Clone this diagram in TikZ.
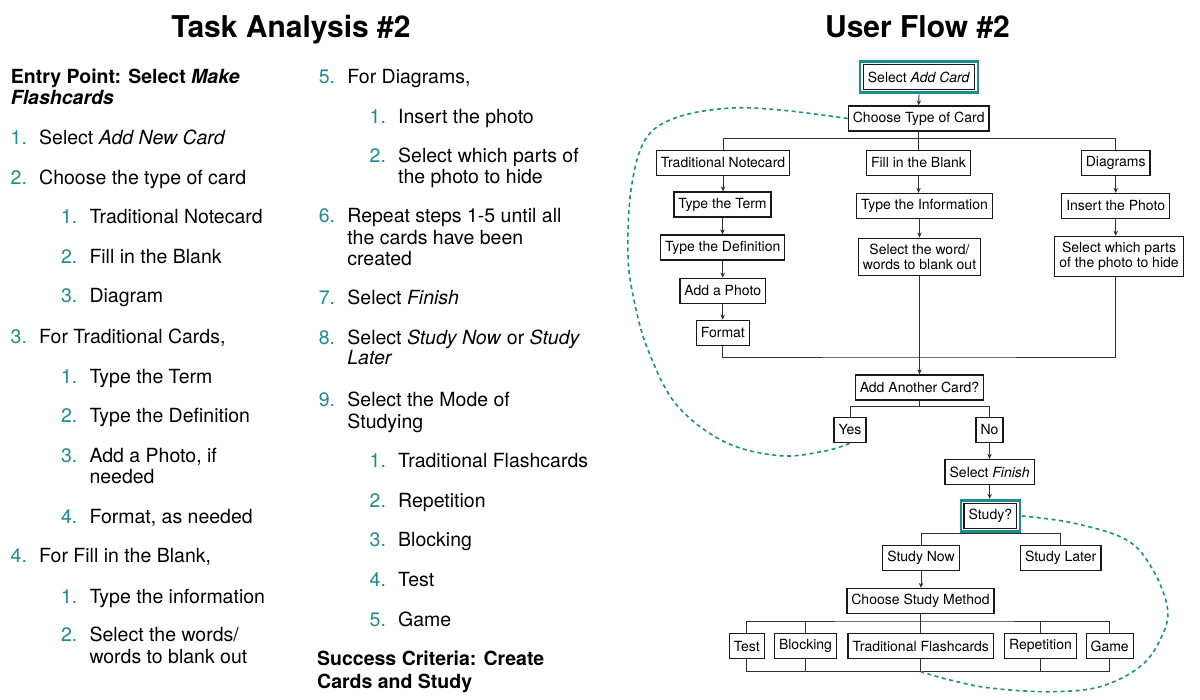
\documentclass[tikz,border=0pt]{standalone}
\usepackage{fontspec}
\setmainfont{TeX Gyre Heros}
\usetikzlibrary{arrows.meta}
\definecolor{tealmark}{RGB}{28,140,140}
\definecolor{inkline}{RGB}{25,25,25}

\tikzset{
  flowbox/.style={draw=inkline, line width=1.3pt, fill=white, align=center,
    font=\fontsize{14}{15.3}\selectfont, inner xsep=4.5pt, inner ysep=5.5pt, minimum height=25pt},
  link/.style={draw=inkline!90, line width=0.9pt},
  flowarrow/.style={link, -{Stealth[length=5pt,width=4.5pt]}},
  tealframe/.style={draw=tealmark, line width=2.6pt},
  loopback/.style={draw=tealmark, line width=1.6pt, dash pattern=on 4pt off 3.5pt},
  listtext/.style={anchor=base west, inner sep=0pt, font=\fontsize{19.5}{21.5}\selectfont},
  listnum/.style={listtext, text=tealmark},
  listhead/.style={listtext, font=\fontsize{19.5}{21.5}\selectfont\bfseries},
  heading/.style={anchor=base, inner sep=0pt, font=\fontsize{30}{33}\selectfont\bfseries},
}

\begin{document}
\begin{tikzpicture}[x=1pt, y=-1pt]
  \path[use as bounding box, fill=white] (0,0) rectangle (1200,700);

  % titles
  \node[heading] (tasktitle) at (291,37.5) {Task Analysis \#2};
  \node[heading] (flowtitle) at (917.5,37.5) {User Flow \#2};

  % task analysis: bold lines
  \node[listhead] (entry1) at (10.7,83.3) {Entry Point: Select \textit{Make}};
  \node[listhead] (entry2) at (10.7,105) {\textit{Flashcards}};
  \node[listhead] (crit1) at (317,665) {Success Criteria: Create};
  \node[listhead] (crit2) at (317,688.3) {Cards and Study};

  % task analysis: numbered steps
  \foreach \x/\y/\n/\t [count=\k] in {
      39/145/1./{Select \textit{Add New Card}},
      39/185/2./{Choose the type of card},
      89.3/223.3/1./{Traditional Notecard},
      89.3/263.3/2./{Fill in the Blank},
      89.3/302.7/3./{Diagram},
      39/343.3/3./{For Traditional Cards,},
      89.3/383.3/1./{Type the Term},
      89.3/422.7/2./{Type the Definition},
      89.3/462.7/3./{Add a Photo, if},
      89.3/523.3/4./{Format, as needed},
      39/562.7/4./{For Fill in the Blank,},
      89.3/603.3/1./{Type the information},
      89.3/641.7/2./{Select the words/},
      347.2/83.3/5./{For Diagrams,},
      398/123.3/1./{Insert the photo},
      398/162.7/2./{Select which parts of},
      347.2/222.7/6./{Repeat steps 1-5 until all},
      347.2/305/7./{Select \textit{Finish}},
      347.2/345/8./{Select \textit{Study Now} or \textit{Study}},
      347.2/406.7/9./{Select the Mode of},
      398/467.3/1./{Traditional Flashcards},
      398/507.3/2./{Repetition},
      398/546.7/3./{Blocking},
      398/586.7/4./{Test},
      398/626/5./{Game}
    } {
      \node[listnum] (num\k) at (\x-28.5,\y) {\n};
      \node[listtext] (step\k) at (\x,\y) {\t};
    }

  % task analysis: wrapped lines
  \foreach \x/\y/\t [count=\k] in {
      89.3/483.3/{needed},
      89.3/663.3/{words to blank out},
      398/183.3/{the photo to hide},
      347.2/244.3/{the cards have been},
      347.2/265.7/{created},
      347.2/365/{\textit{Later}},
      347.2/428.3/{Studying}
    } {
      \node[listtext] (wrap\k) at (\x,\y) {\t};
    }

  % user flow boxes
  \node[flowbox] (addcard) at (919,77) {Select \textit{Add Card}};
  \node[flowbox] (cardtype) at (918.7,118.5) {Choose Type of Card};
  \node[flowbox] (trad) at (723,163) {Traditional Notecard};
  \node[flowbox] (fill) at (918.5,163) {Fill in the Blank};
  \node[flowbox] (diag) at (1115.7,163) {Diagrams};
  \node[flowbox] (term) at (722.5,204.5) {Type the Term};
  \node[flowbox] (info) at (924.5,206) {Type the Information};
  \node[flowbox] (photo) at (1115.7,206) {Insert the Photo};
  \node[flowbox] (defn) at (722.7,247.5) {Type the Definition};
  \node[flowbox] (blank) at (919.5,256.7) {Select the word/\\words to blank out};
  \node[flowbox] (hide) at (1119,256.3) {Select which parts\\of the photo to hide};
  \node[flowbox] (addphoto) at (722.7,290.8) {Add a Photo};
  \node[flowbox] (format) at (722.8,332.7) {Format};
  \node[flowbox] (another) at (919.5,387.5) {Add Another Card?};
  \node[flowbox] (yes) at (850,430) {Yes};
  \node[flowbox] (no) at (989.5,430) {No};
  \node[flowbox] (finish) at (989.7,472) {Select \textit{Finish}};
  \node[flowbox] (study) at (990.3,516) {Study?};
  \node[flowbox] (now) at (921,558) {Study Now};
  \node[flowbox] (later) at (1060.7,558) {Study Later};
  \node[flowbox] (method) at (920.5,601) {Choose Study Method};
  \node[flowbox] (test) at (746.8,646.3) {Test};
  \node[flowbox] (block) at (805.5,646.3) {Blocking};
  \node[flowbox] (flash) at (920.8,646.3) {Traditional Flashcards};
  \node[flowbox] (rep) at (1040.5,646.3) {Repetition};
  \node[flowbox] (game) at (1109.7,646.3) {Game};

  % teal frames
  \foreach \b in {addcard,study} {
    \draw[tealframe] ([shift={(-2.6pt,2.6pt)}]\b.north west) rectangle ([shift={(2.6pt,-2.6pt)}]\b.south east);
  }

  % bus points
  \coordinate (typebus) at (918.7,138.3);
  \coordinate (cardbus) at (919.5,357);
  \coordinate (yesnobus) at (919.5,406.7);
  \coordinate (studybus) at (990.3,533.3);
  \coordinate (methodbus) at (920.5,621);
  \coordinate (donebus) at (920.8,671.7);

  % card creation
  \draw[flowarrow] ([yshift=-4pt]addcard.south) -- (cardtype.north);
  \draw[link] (cardtype.south) -- (typebus);
  \draw[link] (trad.north) |- (typebus) -| (diag.north);
  \draw[link] (typebus) -- (typebus |- fill.north);
  \foreach \a/\b in {trad/term, term/defn, defn/addphoto, addphoto/format, fill/info, diag/photo, photo/hide} {
    \draw[flowarrow] (\a.south) -- (\a.south |- \b.north);
  }
  \draw[flowarrow] (blank.north |- info.south) -- (blank.north);
  \draw[link] (format.south) |- (cardbus) -| (diag.south |- hide.south);
  \draw[link] (blank.south) -- (blank.south |- cardbus);
  \draw[flowarrow] (cardbus) -- (another.north);

  % yes or no
  \draw[link] (another.south) -- (yesnobus);
  \draw[link] (yes.north) |- (yesnobus) -| (no.north);
  \draw[flowarrow] (no.south) -- (no.south |- finish.north);
  \draw[flowarrow] (finish.south) -- ([yshift=4pt]finish.south |- study.north);

  % studying
  \draw[link] ([yshift=-4pt]study.south) -- (studybus);
  \draw[link] (now.north) |- (studybus) -| (later.north);
  \draw[flowarrow] (now.south) -- (now.south |- method.north);
  \draw[link] (method.south) -- (methodbus);
  \draw[link] (test.north) |- (methodbus) -| (game.north);
  \draw[link] (test.south) |- (donebus) -| (game.south);
  \foreach \m in {block,flash,rep} {
    \draw[link] (\m.north) -- (\m.north |- methodbus);
    \draw[link] (\m.south) -- (\m.south |- donebus);
  }

  % loops back
  \draw[loopback] plot[smooth, tension=0.6] coordinates {(cardtype.west) (780,110) (727,108.3) (675,118) (645,140) (631,190) (628,255) (634,300) (648,350) (676.7,405) (725,442) (780,455.7) (825,451) (yes.south)};
  \draw[loopback] plot[smooth, tension=0.6] coordinates {([xshift=4.5pt]study.east) (1073,523) (1126.7,540) (1153,570) (1167.7,610) (1160,640) (1140,666.7) (1100,686.7) (1050,691.7) (990,688) (950,680) (donebus)};
\end{tikzpicture}
\end{document}
